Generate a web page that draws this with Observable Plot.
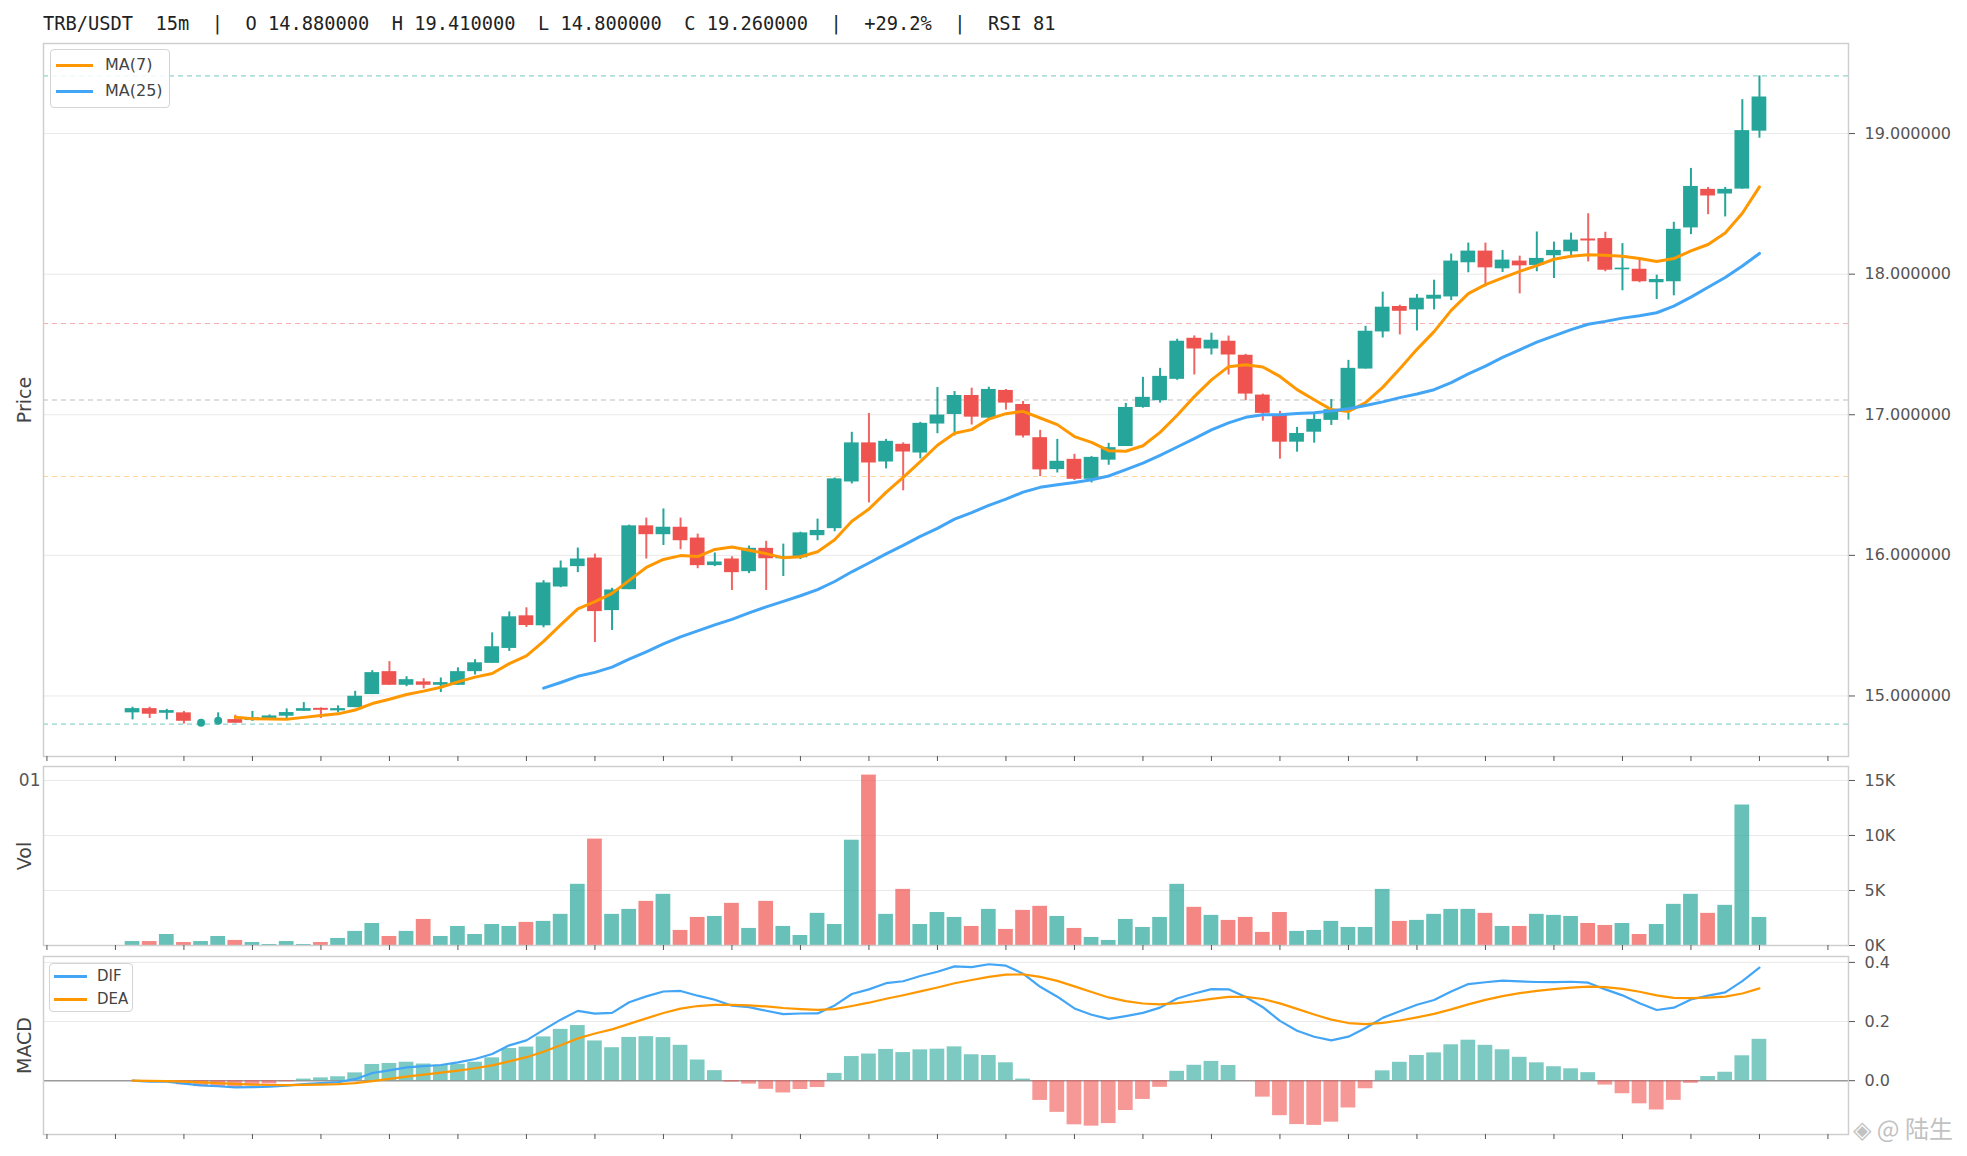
<!DOCTYPE html>
<html><head><meta charset="utf-8">
<script src="https://cdn.jsdelivr.net/npm/d3@7"></script>
<script src="https://cdn.jsdelivr.net/npm/@observablehq/plot@0.6"></script>
<style>
html,body{margin:0;padding:0;background:#fff;}
#root{position:relative;width:1967px;height:1156px;overflow:hidden;font-family:"DejaVu Sans",sans-serif;}
.panel{position:absolute;left:0;}
.title{position:absolute;left:43px;top:12px;font-family:"DejaVu Sans Mono",monospace;font-size:18.7px;color:#222;white-space:pre;line-height:24px;}
.legend{position:absolute;background:rgba(255,255,255,0.85);border:1.5px solid #d4d4d4;border-radius:4px;box-sizing:border-box;font-family:"DejaVu Sans",sans-serif;color:#444;}
.item{position:absolute;left:0;height:20px;width:100%;}
.sw{position:absolute;height:3px;top:9px;}
.lt{position:absolute;top:0;line-height:20px;}
.wm{position:absolute;left:1853px;top:1110px;font-family:"Noto Sans CJK SC","DejaVu Sans",sans-serif;font-size:24px;color:#c2c2c2;white-space:pre;}
</style></head>
<body><div id="root">
<div class="title">TRB/USDT  15m  |  O 14.880000  H 19.410000  L 14.800000  C 19.260000  |  +29.2%  |  RSI 81</div>
</div>
<script>
// ---- data ----
const opens  = [14.88,14.91,14.877,14.88,14.81,14.823,14.832,14.825,14.84,14.856,
  14.891,14.912,14.894,14.917,15.01,15.173,15.076,15.10,15.076,15.076,
  15.173,15.232,15.338,15.57,15.499,15.775,15.92,15.981,15.607,15.756,
  16.21,16.147,16.20,16.123,15.927,15.974,15.884,16.05,15.976,15.983,
  16.14,16.19,16.522,16.80,16.664,16.79,16.728,16.934,17.002,17.137,
  16.976,17.173,17.073,16.837,16.61,16.683,16.541,16.677,16.774,17.052,
  17.10,17.252,17.544,17.468,17.523,17.423,17.14,17.0,16.805,16.876,
  16.96,17.029,17.325,17.589,17.77,17.746,17.822,17.838,18.081,18.164,
  18.038,18.093,18.062,18.131,18.159,18.25,18.253,18.031,18.035,17.939,
  17.946,18.329,18.603,18.57,18.605,19.017];
const highs  = [14.92,14.92,14.905,14.89,14.815,14.88,14.863,14.89,14.865,14.908,
  14.953,14.915,14.93,15.033,15.18,15.244,15.137,15.123,15.128,15.20,
  15.258,15.449,15.598,15.627,15.82,15.96,16.052,16.009,15.766,16.215,
  16.265,16.33,16.265,16.151,16.017,15.99,16.066,16.10,16.08,16.165,
  16.258,16.55,16.875,17.009,16.825,16.80,16.946,17.194,17.165,17.189,
  17.196,17.18,17.095,16.889,16.825,16.719,16.702,16.797,17.081,17.266,
  17.33,17.537,17.561,17.58,17.56,17.43,17.147,17.024,16.91,17.014,
  17.109,17.387,17.629,17.872,17.779,17.855,17.957,18.143,18.221,18.221,
  18.169,18.128,18.30,18.228,18.292,18.43,18.298,18.217,18.104,17.993,
  18.369,18.752,18.617,18.617,19.241,19.41];
const lows   = [14.83,14.84,14.83,14.80,14.805,14.82,14.806,14.82,14.84,14.837,
  14.891,14.84,14.88,14.917,15.01,15.076,15.066,15.05,15.024,15.076,
  15.149,15.232,15.317,15.487,15.485,15.77,15.877,15.38,15.466,15.756,
  15.974,16.07,16.04,15.905,15.92,15.75,15.87,15.75,15.85,15.97,
  16.104,16.168,16.508,16.373,16.615,16.459,16.686,16.865,16.849,16.927,
  16.97,17.033,16.835,16.56,16.586,16.532,16.515,16.641,16.774,17.047,
  17.083,17.245,17.283,17.425,17.283,17.10,16.955,16.684,16.734,16.798,
  16.924,16.962,17.325,17.546,17.568,17.596,17.746,17.812,18.01,17.91,
  18.012,17.86,18.017,17.969,18.116,18.087,18.017,17.882,17.939,17.82,
  17.846,18.281,18.423,18.407,18.605,18.967];
const closes = [14.91,14.87,14.896,14.82,14.81,14.823,14.806,14.845,14.858,14.882,
  14.91,14.898,14.91,14.998,15.166,15.076,15.116,15.076,15.095,15.173,
  15.236,15.35,15.563,15.501,15.804,15.91,15.974,15.60,15.754,16.21,
  16.147,16.20,16.104,15.927,15.953,15.877,16.05,15.976,15.99,16.16,
  16.177,16.544,16.80,16.657,16.811,16.735,16.939,16.998,17.137,16.983,
  17.18,17.083,16.849,16.608,16.669,16.541,16.697,16.766,17.052,17.124,
  17.273,17.523,17.468,17.53,17.425,17.147,17.01,16.805,16.867,16.967,
  17.036,17.33,17.594,17.765,17.736,17.829,17.85,18.093,18.164,18.045,
  18.10,18.059,18.112,18.169,18.242,18.236,18.028,18.043,17.946,17.962,
  18.319,18.624,18.556,18.603,19.021,19.26];
// volume in thousands
const volumes = [0.36,0.36,1.0,0.27,0.36,0.82,0.46,0.27,0.09,0.36,
  0.09,0.27,0.64,1.28,2.0,0.82,1.28,2.37,0.82,1.73,
  1.0,1.91,1.73,2.1,2.19,2.83,5.56,9.67,2.83,3.28,
  4.01,4.65,1.37,2.55,2.64,3.83,1.55,4.01,1.73,0.91,
  2.92,1.91,9.57,15.49,2.83,5.1,1.91,3.0,2.55,1.73,
  3.28,1.46,3.19,3.56,2.64,1.55,0.73,0.46,2.37,1.64,
  2.55,5.56,3.47,2.74,2.28,2.55,1.19,3.0,1.28,1.37,
  2.19,1.64,1.64,5.1,2.19,2.28,2.83,3.28,3.28,2.92,
  1.73,1.73,2.83,2.74,2.64,2.0,1.82,2.0,1.0,1.91,
  3.74,4.65,2.92,3.65,12.77,2.55];
const levelValues = [19.41, 17.649, 17.105, 16.561, 14.80];   // high, 0.618, 0.5, 0.382, low
const priceTicks = [15, 16, 17, 18, 19];
const volTicks = [0, 5, 10, 15];
const macdTicks = [0, 0.2, 0.4];
const xTicks = d3.range(-5, 100, 4);

// ---- indicators derived from the closes ----
function sma(a, n) { return a.map((_, i) => i < n - 1 ? null : d3.mean(a.slice(i - n + 1, i + 1))); }
function ema(a, n) { const k = 2 / (n + 1); let e; return a.map((v, i) => (e = i === 0 ? v : v * k + e * (1 - k))); }
const ma7 = sma(closes, 7), ma25 = sma(closes, 25);
const e12 = ema(closes, 12), e26 = ema(closes, 26);
const dif = e12.map((v, i) => v - e26[i]);
const dea = ema(dif, 9);
const hist = dif.map((v, i) => 2 * (v - dea[i]));

const rows = opens.map((o, i) => ({i, o, h: highs[i], l: lows[i], c: closes[i], v: volumes[i],
  up: closes[i] >= o, ma7: ma7[i], ma25: ma25[i], dif: dif[i], dea: dea[i], hist: hist[i]}));

const UP = "#26a69a", DN = "#ef5350", ORANGE = "#ff9800", BLUE = "#42a5f5";
const levelColors = ["#8fd4cd", "#f6b0af", "#bdbdbd", "#fdd49a", "#8fd4cd"];
const W = 1967, ML = 43, MR = 119, XD = [-5.2, 100.2], HW = 0.43;
const common = {width: W, marginLeft: ML, marginRight: MR,
  style: {fontFamily: "DejaVu Sans, sans-serif", fontSize: "16px", color: "#555", background: "transparent", overflow: "visible"}};
const xScale = {type: "linear", domain: XD};
const frame = Plot.frame({stroke: "#cfcfcf", strokeWidth: 1.5});
const xAxis = Plot.axisX({ticks: xTicks, tickSize: 5, tickFormat: () => "", label: null, stroke: "#555"});
const sideLabel = (t) => Plot.text([t], {frameAnchor: "left", textAnchor: "middle", dx: -19, rotate: -90, fontSize: 19, fill: "#444"});

const root = document.getElementById("root");
function place(svg, top) { svg.classList.add("panel"); svg.style.top = top + "px"; root.appendChild(svg); }

// ---- price panel ----
const price = Plot.plot({...common, height: 733, marginTop: 10, marginBottom: 10,
  x: xScale, y: {domain: [14.5695, 19.6405]},
  marks: [
    Plot.gridY(priceTicks, {stroke: "#e9e9e9", strokeOpacity: 1}),
    Plot.ruleY(levelValues, {stroke: (d, j) => levelColors[j], strokeDasharray: "5,4", strokeWidth: 1.2}),
    Plot.ruleX(rows, {x: "i", y1: "l", y2: "h", stroke: d => d.up ? UP : "#f06664", strokeWidth: 2}),
    Plot.rect(rows.filter(d => d.o !== d.c), {x1: d => d.i - HW, x2: d => d.i + HW, y1: "o", y2: "c", fill: d => d.up ? UP : DN}),
    Plot.dot(rows.filter(d => d.o === d.c), {x: "i", y: "c", r: 4, fill: UP}),
    Plot.line(rows.filter(d => d.ma7 != null), {x: "i", y: "ma7", stroke: ORANGE, strokeWidth: 3}),
    Plot.line(rows.filter(d => d.ma25 != null), {x: "i", y: "ma25", stroke: BLUE, strokeWidth: 3}),
    frame,
    Plot.axisY({anchor: "right", ticks: priceTicks, tickSize: 6, tickPadding: 10, tickFormat: d => d.toFixed(6), label: null, stroke: "#555"}),
    xAxis,
    sideLabel("Price")
  ]});
place(price, 33);

// ---- volume panel ----
const vol = Plot.plot({...common, height: 197, marginTop: 8, marginBottom: 10,
  x: xScale, y: {domain: [0, 16.27]},
  marks: [
    Plot.gridY(volTicks, {stroke: "#e9e9e9", strokeOpacity: 1}),
    Plot.rect(rows, {x1: d => d.i - HW, x2: d => d.i + HW, y1: 0, y2: "v", fill: d => d.up ? UP : DN, fillOpacity: 0.7}),
    frame,
    Plot.axisY({anchor: "right", ticks: volTicks, tickSize: 6, tickPadding: 10, tickFormat: d => d + "K", label: null, stroke: "#555"}),
    xAxis,
    Plot.text(["01"], {x: XD[0], y: 15, textAnchor: "end", dx: -3, fontSize: 17, fill: "#555"}),
    sideLabel("Vol")
  ]});
place(vol, 758);

// ---- MACD panel ----
const macd = Plot.plot({...common, height: 198, marginTop: 8, marginBottom: 12,
  x: xScale, y: {domain: [-0.182, 0.42]},
  marks: [
    Plot.gridY(macdTicks.filter(d => d !== 0), {stroke: "#e9e9e9", strokeOpacity: 1}),
    Plot.ruleY([0], {stroke: "#9a9a9a", strokeWidth: 1.5}),
    Plot.rect(rows, {x1: d => d.i - HW, x2: d => d.i + HW, y1: 0, y2: "hist", fill: d => d.hist >= 0 ? UP : DN, fillOpacity: 0.6}),
    Plot.line(rows, {x: "i", y: "dif", stroke: BLUE, strokeWidth: 2.2}),
    Plot.line(rows, {x: "i", y: "dea", stroke: ORANGE, strokeWidth: 2.2}),
    frame,
    Plot.axisY({anchor: "right", ticks: macdTicks, tickSize: 6, tickPadding: 10, tickFormat: d => d.toFixed(1), label: null, stroke: "#555"}),
    xAxis,
    sideLabel("MACD")
  ]});
place(macd, 948);

// ---- legends & watermark ----
function legend(left, top, w, h, items, swL, swW, txL, fs, gap, first) {
  const div = document.createElement("div");
  div.className = "legend";
  Object.assign(div.style, {left: left + "px", top: top + "px", width: w + "px", height: h + "px", fontSize: fs + "px"});
  items.forEach(([name, col], k) => {
    const it = document.createElement("div");
    it.className = "item"; it.style.top = (first + k * gap - 10) + "px";
    const sw = document.createElement("div");
    sw.className = "sw"; Object.assign(sw.style, {left: swL + "px", width: swW + "px", background: col});
    const tx = document.createElement("div");
    tx.className = "lt"; tx.style.left = txL + "px"; tx.textContent = name;
    it.appendChild(sw); it.appendChild(tx); div.appendChild(it);
  });
  root.appendChild(div);
}
legend(50, 49, 120, 59, [["MA(7)", ORANGE], ["MA(25)", BLUE]], 5, 37, 54, 16, 26, 15);
legend(49, 963, 84, 49, [["DIF", BLUE], ["DEA", ORANGE]], 4, 33, 47, 15, 23, 12);

const wm = document.createElement("div");
wm.className = "wm"; wm.textContent = "◈ @ 陆生";
root.appendChild(wm);
</script>
</body></html>
